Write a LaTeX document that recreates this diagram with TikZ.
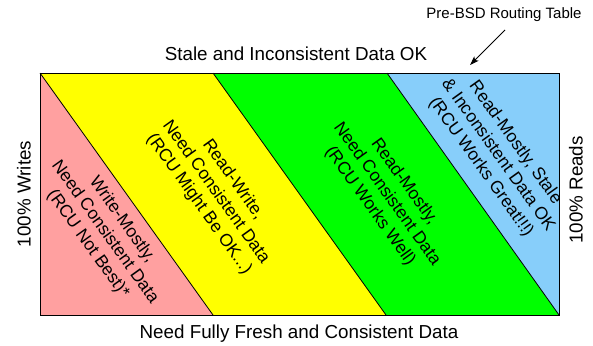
\documentclass[tikz,border=0pt]{standalone}
\usepackage{fontspec}
\setmainfont{Liberation Sans}
\usetikzlibrary{arrows.meta}
\definecolor{pinkfill}{RGB}{255,160,160}
\definecolor{yellowfill}{RGB}{255,255,0}
\definecolor{greenfill}{RGB}{0,255,0}
\definecolor{bluefill}{RGB}{135,206,250}
\begin{document}
\begin{tikzpicture}[x=1pt,y=-1pt,
  edge/.style={draw=black, line width=0.8pt},
  bandtext/.style={rotate=-54.4, align=center, font=\fontsize{17.5}{21}\selectfont, inner sep=0pt},
  axislabel/.style={font=\fontsize{18.8}{22}\selectfont, inner sep=0pt},
  notelabel/.style={font=\fontsize{15}{18}\selectfont, inner sep=0pt},
  pointer/.style={draw=black, line width=0.8pt, -{Stealth[length=9pt,width=6pt,inset=2pt]}}
  ]
\useasboundingbox (0,0) rectangle (593,345);
\coordinate (tl) at (40,73);
\coordinate (t1) at (213,73);
\coordinate (t2) at (387,73);
\coordinate (tr) at (559,73);
\coordinate (bl) at (40,315);
\coordinate (b1) at (213,315);
\coordinate (b2) at (386,315);
\coordinate (br) at (559,315);
\fill[pinkfill] (tl) -- (b1) -- (bl) -- cycle;
\fill[yellowfill] (tl) -- (t1) -- (b2) -- (b1) -- cycle;
\fill[greenfill] (t1) -- (t2) -- (br) -- (b2) -- cycle;
\fill[bluefill] (t2) -- (tr) -- (br) -- cycle;
\draw[edge] (tl) -- (b1);
\draw[edge] (t1) -- (b2);
\draw[edge] (t2) -- (br);
\draw[edge] (tl) rectangle (br);

\node[bandtext] (wm) at (105,232) {Write-Mostly,\\Need Consistent Data\\(RCU Not Best)*};
\node[bandtext] (rw) at (216,192) {Read-Write,\\Need Consistent Data\\(RCU Might Be OK...)};
\node[bandtext] (rm) at (387,194) {Read-Mostly,\\Need Consistent Data\\(RCU Works Well)};
\node[bandtext] (rs) at (498,155) {Read-Mostly, Stale\\\& Inconsistent Data OK\\(RCU Works Great!!!)};

\node[axislabel, anchor=base] (top) at (296,60) {Stale and Inconsistent Data OK};
\node[axislabel, anchor=base] (bottom) at (299,338) {Need Fully Fresh and Consistent Data};
\node[axislabel, rotate=90] (writes) at (24,194) {100\% Writes};
\node[axislabel, rotate=90] (reads) at (576,190) {100\% Reads};

\node[notelabel] (pbsd) at (504,15) {Pre-BSD Routing Table};
\coordinate (arrfrom) at (505,30);
\coordinate (arrto) at (470,65);
\draw[pointer] (arrfrom) -- (arrto);
\end{tikzpicture}
\end{document}
